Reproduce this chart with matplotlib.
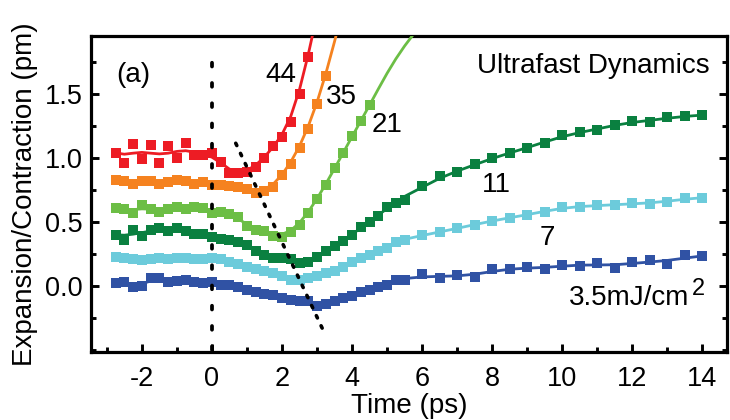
import numpy as np
import matplotlib
matplotlib.use("Agg")
import matplotlib.pyplot as plt
from matplotlib.ticker import MultipleLocator, FuncFormatter

plt.rcParams['font.family'] = ['Liberation Sans', 'DejaVu Sans']

# ---------------- data ----------------
t_pre = [-2.75, -2.5, -2.25, -2.0, -1.75, -1.5, -1.25, -1.0, -0.75, -0.5, -0.25, 0.0]
t_mid = [0.25, 0.5, 0.75, 1.0, 1.25, 1.5, 1.75, 2.0, 2.25, 2.5, 2.75, 3.0, 3.25,
         3.5, 3.75, 4.0, 4.25, 4.5, 4.75, 5.0, 5.25]
t_late = [5.5, 6.0, 6.5, 7.0, 7.5, 8.0, 8.5, 9.0, 9.5, 10.0, 10.5, 11.0, 11.5,
          12.0, 12.5, 13.0, 13.5, 14.0]
t_full = t_pre + t_mid + t_late

v_3p5 = [0.02, 0.03, -0.01, 0.0, 0.06, 0.06, 0.03, 0.04, 0.05, 0.03, 0.02, 0.03,
         0.01, 0.01, -0.005, -0.03, -0.045, -0.06, -0.07, -0.095, -0.11, -0.12, -0.12,
         -0.155, -0.14, -0.12, -0.095, -0.075, -0.05, -0.03, -0.01, 0.01, 0.05,
         0.05, 0.09, 0.065, 0.085, 0.07, 0.13, 0.13, 0.15, 0.13, 0.165, 0.16, 0.18,
         0.14, 0.185, 0.20, 0.17, 0.24, 0.235]
v_7 = [0.23, 0.22, 0.21, 0.20, 0.21, 0.22, 0.21, 0.22, 0.22, 0.21, 0.21, 0.22,
       0.21, 0.19, 0.17, 0.15, 0.135, 0.12, 0.10, 0.08, 0.05, 0.045, 0.06, 0.08,
       0.10, 0.12, 0.15, 0.19, 0.22, 0.24, 0.27, 0.30, 0.34,
       0.36, 0.40, 0.42, 0.45, 0.48, 0.51, 0.535, 0.555, 0.58, 0.62, 0.62, 0.63,
       0.63, 0.65, 0.64, 0.66, 0.685, 0.69]
v_11 = [0.40, 0.36, 0.44, 0.39, 0.44, 0.45, 0.43, 0.45, 0.43, 0.41, 0.41, 0.385,
        0.37, 0.36, 0.34, 0.32, 0.27, 0.24, 0.22, 0.22, 0.21, 0.18, 0.19, 0.23,
        0.27, 0.31, 0.35, 0.40, 0.46, 0.50, 0.55, 0.62, 0.645,
        0.67, 0.78, 0.86, 0.89, 0.95, 1.0, 1.04, 1.08, 1.12, 1.18, 1.20, 1.22,
        1.26, 1.29, 1.28, 1.32, 1.325, 1.335]

t_21 = t_pre + t_mid[:18]
v_21 = [0.61, 0.60, 0.57, 0.63, 0.60, 0.58, 0.60, 0.62, 0.60, 0.62, 0.61, 0.57,
        0.58, 0.56, 0.54, 0.47, 0.44, 0.43, 0.39, 0.385, 0.42, 0.48, 0.57, 0.68,
        0.79, 0.92, 1.04, 1.17, 1.29, 1.41]
tail_t_21 = [4.75, 5.0, 5.25, 5.5, 5.75, 6.0]
tail_v_21 = [1.54, 1.67, 1.78, 1.88, 1.97, 2.05]

t_35 = t_pre + t_mid[:13]
v_35 = [0.83, 0.82, 0.80, 0.82, 0.82, 0.80, 0.81, 0.83, 0.82, 0.80, 0.81, 0.79,
        0.79, 0.78, 0.77, 0.76, 0.73, 0.74, 0.77, 0.87, 0.95, 1.08, 1.23, 1.42, 1.64]
tail_t_35 = [3.5, 3.75]
tail_v_35 = [1.90, 2.18]

t_44 = t_pre + t_mid[:11]
v_44 = [1.04, 0.96, 1.11, 0.99, 1.10, 0.96, 1.09, 1.00, 1.12, 1.02, 1.02, 1.04,
        0.97, 0.88, 0.88, 0.89, 0.93, 1.00, 1.09, 1.16, 1.28, 1.50, 1.79]
tail_t_44 = [3.0]
tail_v_44 = [2.12]

colors = {'44': '#ED1C24', '35': '#F5821F', '21': '#6CBE45',
          '11': '#0A8040', '7': '#6CCBDB', '3.5': '#3052A4'}

# guide lines (time zero and minimum track)
guide_zero_t = [0.0, 0.0]
guide_zero_v = [-0.5, 1.83]
guide_min_t = [0.68, 3.2]
guide_min_v = [1.115, -0.36]

x_ticks = [-2, 0, 2, 4, 6, 8, 10, 12, 14]
y_ticks = [0.0, 0.5, 1.0, 1.5]


def smooth(v, n=2):
    v = np.asarray(v, dtype=float)
    for _ in range(n):
        w = v.copy()
        w[1:-1] = 0.25 * v[:-2] + 0.5 * v[1:-1] + 0.25 * v[2:]
        v = w
    return v


fig = plt.figure(figsize=(7.3, 4.2), dpi=100)
ax = fig.add_axes([0.1247, 0.1626, 0.8712, 0.7524])

series = [
    ('3.5', t_full, v_3p5, [], []),
    ('7', t_full, v_7, [], []),
    ('11', t_full, v_11, [], []),
    ('21', t_21, v_21, tail_t_21, tail_v_21),
    ('35', t_35, v_35, tail_t_35, tail_v_35),
    ('44', t_44, v_44, tail_t_44, tail_v_44),
]
for i, (name, tt, vv, tt2, vv2) in enumerate(series):
    c = colors[name]
    lt = list(tt) + list(tt2)
    lv = smooth(list(vv) + list(vv2))
    ax.plot(lt, lv, '-', color=c, lw=2.0, zorder=3 + i)
    ax.plot(tt, vv, 's', color=c, ms=7.4, mew=0, zorder=3 + i)

ax.plot(guide_zero_t, guide_zero_v, color='black', lw=2.7,
        dashes=(1.0, 4.4), dash_capstyle='round', zorder=10)
ax.plot(guide_min_t, guide_min_v, color='black', lw=2.6,
        dashes=(0.7, 2.4), dash_capstyle='round', zorder=10)

ax.set_xlim(-3.45, 14.7)
ax.set_ylim(-0.513, 1.955)
ax.set_xticks(x_ticks)
ax.set_yticks(y_ticks)
ax.xaxis.set_minor_locator(MultipleLocator(1))
ax.yaxis.set_minor_locator(MultipleLocator(0.25))
ax.xaxis.set_major_formatter(FuncFormatter(lambda v, p: f"{v:.0f}"))
ax.yaxis.set_major_formatter(FuncFormatter(lambda v, p: f"{v:.1f}"))

for s in ax.spines.values():
    s.set_linewidth(2.3)
ax.tick_params(axis='both', which='both', direction='in', right=True, top=False,
               labelsize=19.5)
ax.tick_params(which='major', length=6, width=2.1)
ax.tick_params(which='minor', length=3.5, width=2.1)
ax.tick_params(axis='x', pad=10)
ax.tick_params(axis='y', pad=6)

ax.set_xlabel('Time (ps)', fontsize=20, labelpad=1)
ax.set_ylabel('Expansion/Contraction (pm)', fontsize=20, labelpad=5)

fs = 20
ax.text(-2.72, 1.65, '(a)', fontsize=fs, va='center', ha='left')
ax.text(1.53, 1.65, '44', fontsize=fs, va='center', ha='left')
ax.text(3.25, 1.48, '35', fontsize=fs, va='center', ha='left')
ax.text(4.56, 1.26, '21', fontsize=fs, va='center', ha='left')
ax.text(7.71, 0.79, '11', fontsize=fs, va='center', ha='left')
ax.text(9.34, 0.375, '7', fontsize=fs, va='center', ha='left')
unit = ax.text(10.2, -0.148, '3.5mJ/cm', fontsize=fs, va='baseline', ha='left')
ax.annotate('2', xy=(1.0, 1.0), xycoords=unit, xytext=(1.5, 5.0),
            textcoords='offset points', fontsize=17, va='top', ha='left')
ax.text(14.2, 1.66, 'Ultrafast Dynamics', fontsize=fs, va='baseline', ha='right')

fig.savefig('out.png', dpi=100)
